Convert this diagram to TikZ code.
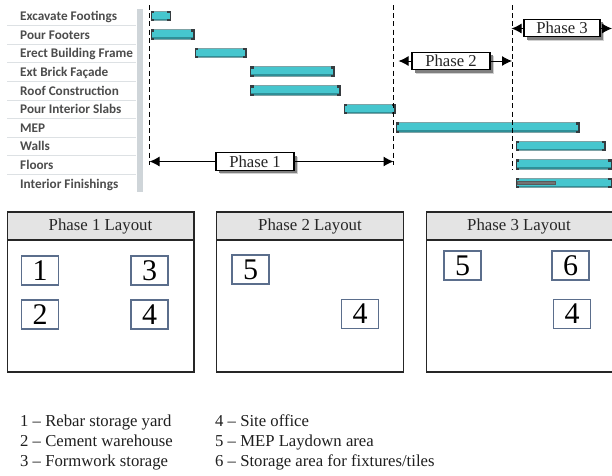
\documentclass[tikz,border=0pt]{standalone}
\usepackage{fontspec}
\setmainfont{Liberation Serif}
\newfontfamily\ganttfont{Carlito}
\usetikzlibrary{shadows,arrows.meta}
\definecolor{barteal}{HTML}{46C6CE}
\definecolor{bardark}{HTML}{2F8F97}
\definecolor{barrim}{HTML}{7FA3A6}
\definecolor{capdark}{HTML}{363C40}
\definecolor{sepgray}{HTML}{DDE1E4}
\definecolor{stripgray}{HTML}{CFD5D9}
\definecolor{headgray}{HTML}{E4E4E4}
\definecolor{slateblue}{HTML}{5B6E8C}
\tikzset{
  x=1pt,y=-1pt,
  tasklabel/.style={anchor=base west,inner sep=0pt,font=\ganttfont\bfseries\fontsize{13.2}{14}\selectfont,text=black!70},
  phasebox/.style={draw=black,line width=1.2pt,fill=white,inner sep=0pt,minimum height=17.5pt,font=\fontsize{16.7}{17}\selectfont,text=black!85,
    drop shadow={shadow xshift=4pt,shadow yshift=-4pt,fill=black!18,opacity=1},
    drop shadow={shadow xshift=2.8pt,shadow yshift=-2.8pt,fill=black!50,opacity=1}},
  phasearrow/.style={line width=1pt,-{Latex[length=10pt,width=10pt]}},
  phaseline/.style={line width=1pt,dash pattern=on 5pt off 3.2pt},
  layoutbox/.style={draw=black!85,line width=1.1pt,fill=white},
  layouthead/.style={draw=black!85,line width=1.1pt,fill=headgray},
  headtext/.style={inner sep=0pt,font=\fontsize{16.8}{17}\selectfont,text=black!85},
  numbox/.style={draw=slateblue,line width=1.1pt,fill=white,minimum width=37pt,minimum height=29pt,inner sep=0pt,font=\fontsize{30}{31}\selectfont,text=black},
  legend/.style={anchor=base west,inner sep=0pt,font=\fontsize{16.7}{17}\selectfont,text=black!88},
}
% #1 name, #2 x1, #3 x2, #4 y
\newcommand{\ganttbar}[4]{%
  \fill[barrim] (#2,#4-5.2) rectangle (#3,#4+5.2);
  \fill[bardark] (#2+1,#4+2) rectangle (#3-1,#4+4.4);
  \node[inner sep=0pt,minimum width=#3pt-#2pt-2pt,minimum height=7pt,fill=barteal] (#1) at ({(#2+#3)/2},#4-1) {};
  \fill[capdark] (#2,#4-5.2) rectangle (#2+1.3,#4+5.2);
  \fill[capdark] (#2,#4-5.2) rectangle (#2+3.6,#4-3);
  \fill[capdark] (#2,#4+3) rectangle (#2+3.6,#4+5.2);
  \fill[capdark] (#3-1.3,#4-5.2) rectangle (#3,#4+5.2);
  \fill[capdark] (#3-3.6,#4-5.2) rectangle (#3,#4-3);
  \fill[capdark] (#3-3.6,#4+3) rectangle (#3,#4+5.2);
}
\begin{document}
\begin{tikzpicture}
\useasboundingbox (0,0) rectangle (612,475);
\fill[white] (0,0) rectangle (612,475);
% task table
\fill[stripgray] (136.5,9) rectangle (143,192);
\foreach \yy in {25.5,44,62.5,81,100,118.5,137,155.5,174.5}
  \draw[sepgray,line width=.8pt] (7,\yy) -- (136,\yy);
\node[tasklabel] (t1) at (20,20.7) {Excavate Footings};
\node[tasklabel] (t2) at (20,39.3) {Pour Footers};
\node[tasklabel] (t3) at (20,57.9) {Erect Building Frame};
\node[tasklabel] (t4) at (20,76.5) {Ext Brick Façade};
\node[tasklabel] (t5) at (20,95.1) {Roof Construction};
\node[tasklabel] (t6) at (20,113.7) {Pour Interior Slabs};
\node[tasklabel] (t7) at (20,132.3) {MEP};
\node[tasklabel] (t8) at (20,150.9) {Walls};
\node[tasklabel] (t9) at (20,169.5) {Floors};
\node[tasklabel] (t10) at (20,188.1) {Interior Finishings};
% bars
\ganttbar{b1}{150.5}{171}{16}
\ganttbar{b2}{150.5}{194.5}{34.5}
\ganttbar{b3}{194.5}{246.5}{53}
\ganttbar{b4}{250}{334.5}{71.5}
\ganttbar{b5}{250}{340.5}{90.5}
\ganttbar{b6}{343.5}{395.5}{109}
\ganttbar{b7}{395.5}{579.5}{127.5}
\ganttbar{b8}{515.5}{605.5}{146}
\ganttbar{b9}{515.5}{612}{164.5}
\ganttbar{b10}{515.5}{612}{183}
\fill[black!55,draw=black!65,line width=.4pt] (517,181.5) rectangle (555.5,184.5);
% phase boundaries
\coordinate (p1t) at (149,5);  \coordinate (p1b) at (149,165);
\coordinate (p2t) at (393.5,5);\coordinate (p2b) at (393.5,165);
\coordinate (p3t) at (512.5,5);\coordinate (p3b) at (512.5,170);
\draw[phaseline] (p1t) -- (p1b);
\draw[phaseline] (p2t) -- (p2b);
\draw[phaseline] (p3t) -- (p3b);
% phase arrows
\node[phasebox,minimum width=78pt] (ph1) at (255,161.5) {Phase 1};
\node[phasebox,minimum width=78pt] (ph2) at (451,61) {Phase 2};
\node[phasebox,minimum width=76pt] (ph3) at (562,28) {Phase 3};
\coordinate (a1l) at (149.5,161.5); \coordinate (a1r) at (393.5,161.5);
\coordinate (a2l) at (398.5,61);    \coordinate (a2r) at (512,61);
\coordinate (a3l) at (511.5,28.5);  \coordinate (a3r) at (612,28.5);
\draw[phasearrow] (ph1.west |- a1l) -- (a1l);
\draw[phasearrow] (ph1.east |- a1r) -- (a1r);
\draw[phasearrow] (ph2.west |- a2l) -- (a2l);
\draw[phasearrow] (ph2.east |- a2r) -- (a2r);
\draw[phasearrow] (ph3.west |- a3l) -- (a3l);
\draw[phasearrow] (ph3.east |- a3r) -- (a3r);
% layouts
\draw[layoutbox] (7.5,212) rectangle (194,372);
\draw[layouthead] (7.5,212) rectangle (194,240);
\node[headtext] (h1) at (100.5,226.5) {Phase 1 Layout};
\draw[layoutbox] (216.5,212) rectangle (403.5,372);
\draw[layouthead] (216.5,212) rectangle (403.5,240);
\node[headtext] (h2) at (310,226.5) {Phase 2 Layout};
\draw[layoutbox] (426.5,212) rectangle (614,372);
\draw[layouthead] (426.5,212) rectangle (614,240);
\node[headtext] (h3) at (519,226.5) {Phase 3 Layout};
\node[numbox] (n11) at (40,270.5) {1};
\node[numbox] (n13) at (149.5,270.5) {3};
\node[numbox] (n12) at (40,314.5) {2};
\node[numbox] (n14) at (149.5,314.5) {4};
\node[numbox] (n25) at (250.5,269.5) {5};
\node[numbox] (n24) at (360,314) {4};
\node[numbox] (n35) at (462.5,265.5) {5};
\node[numbox] (n36) at (570.5,265.5) {6};
\node[numbox] (n34) at (572,314) {4};
% legend
\node[legend] (l1) at (20,426.7) {1 – Rebar storage yard};
\node[legend] (l2) at (20,446.7) {2 – Cement warehouse};
\node[legend] (l3) at (20,466.7) {3 – Formwork storage};
\node[legend] (l4) at (215,426.7) {4 – Site office};
\node[legend] (l5) at (215,446.7) {5 – MEP Laydown area};
\node[legend] (l6) at (215,466.7) {6 – Storage area for fixtures/tiles};
\end{tikzpicture}
\end{document}
